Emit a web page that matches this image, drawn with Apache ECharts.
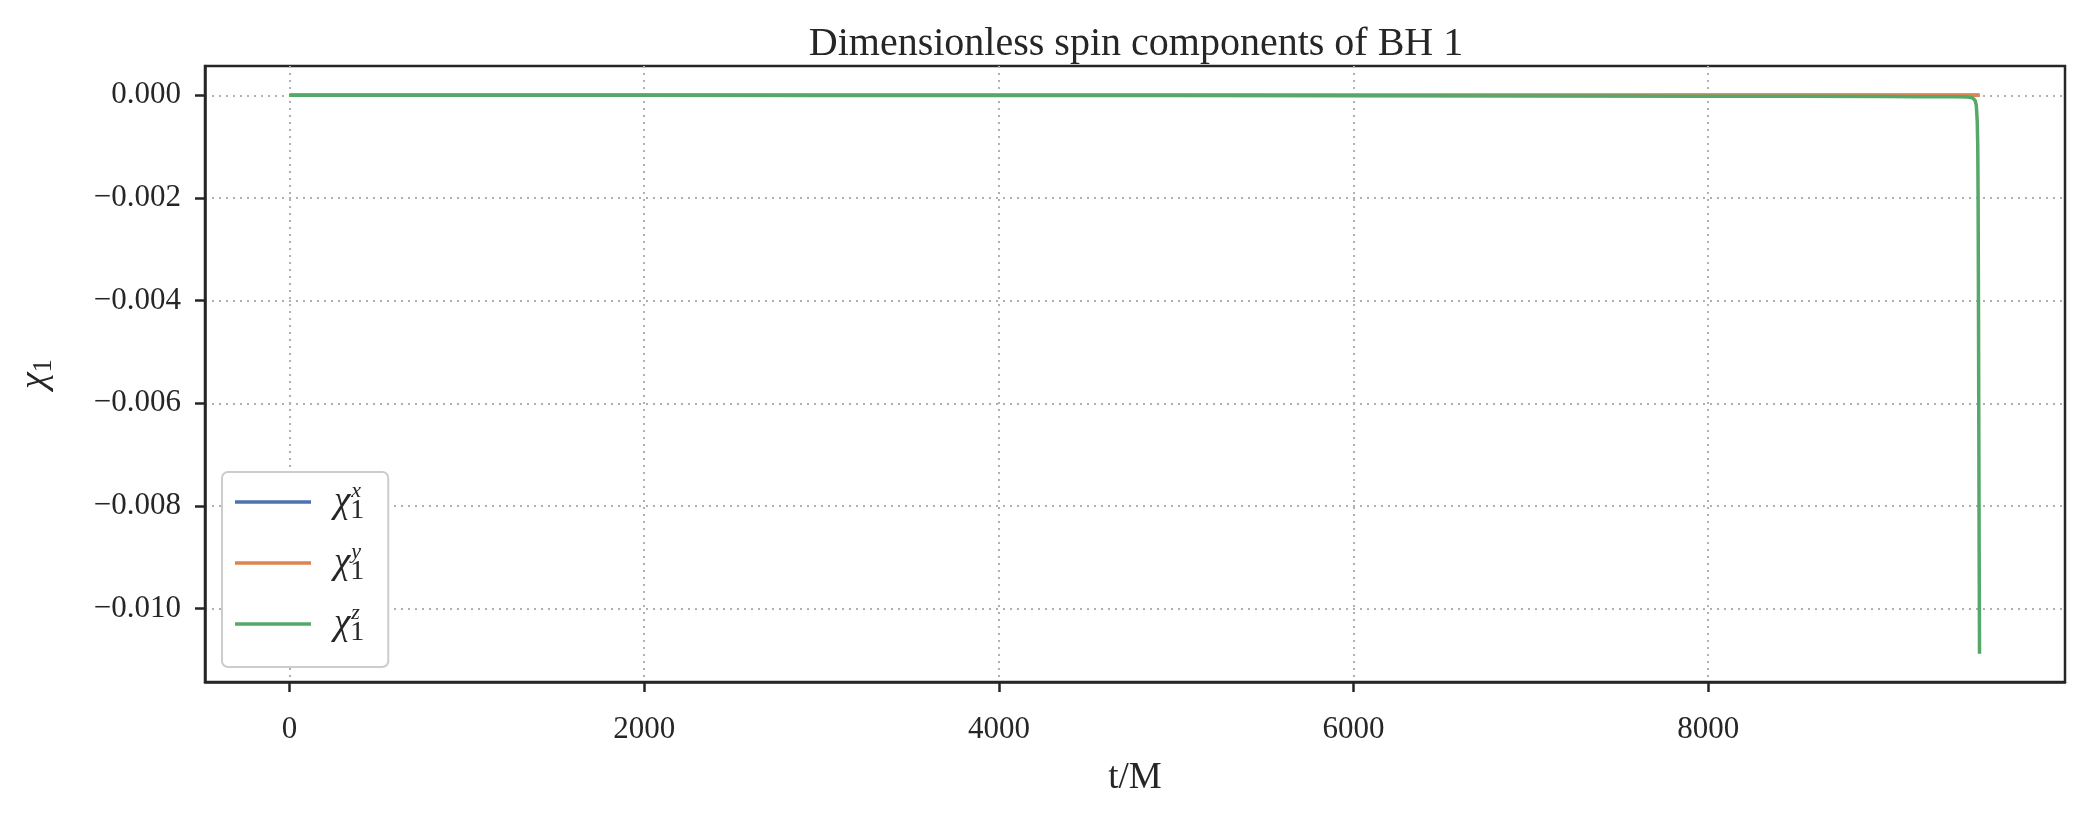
<!DOCTYPE html>
<html>
<head>
<meta charset="utf-8">
<script src="https://cdn.jsdelivr.net/npm/echarts@6/dist/echarts.min.js"></script>
<style>
html,body{margin:0;padding:0;background:#fff;}
#chart{width:2084px;height:816px;}
</style>
</head>
<body>
<div id="chart"></div>
<script>
// ---- data ----
const tValues = [0, 1000, 2000, 3000, 4000, 5000, 6000, 7000, 8000, 8500, 9000, 9200, 9400, 9460, 9490, 9505, 9512, 9517, 9520, 9522, 9524, 9526, 9528, 9530];
const chiX    = [0, 0, 0, 0, 0, 0, 0, 0, 0, 0, 0, 0, 0, 0, 0, 0, 0, 0, 0, 0, 0, 0, 0, 0];
const chiY    = [0, 0, 0, 0, 0, 0, 0, 0, 0, 0, 0, 0, 0, 0, 0, 0, 0, 0, 0, 0, 0, 0, 0, 0];
const chiZ    = [0, -0.000001, -0.000002, -0.000003, -0.000004, -0.000006, -0.000009, -0.000013, -0.000018, -0.000021, -0.000025, -0.000027, -0.00003, -0.000034, -0.00005, -0.0001, -0.0002, -0.0005, -0.0010, -0.0020, -0.0040, -0.0065, -0.0090, -0.01088];
const xTicks = [0, 2000, 4000, 6000, 8000];
const yTicks = [0, -0.002, -0.004, -0.006, -0.008, -0.010];
const seriesNames = ['x', 'y', 'z'];
const seriesColors = ['#4c72b0', '#dd8452', '#55a868'];

const FONT = '"Liberation Serif", "DejaVu Serif", serif';
const AXIS = '#262626';

function pairs(ys){ return tValues.map((t,i)=>[t, ys[i]]); }
function fmtY(v){
  const s = Math.abs(v).toFixed(3);
  return (v < -1e-12 ? '\u2212' : '') + s;
}

const chart = echarts.init(document.getElementById('chart'), null, {renderer:'canvas'});
const gridLine = {show:true, lineStyle:{color:'#b0b0b0', type:[2,5], width:2}};

const option = {
  backgroundColor:'#ffffff',
  animation:false,
  title:{
    text:'Dimensionless spin components of BH 1',
    left:1131, top:19, textAlign:'center',
    textStyle:{fontFamily:FONT, fontSize:40, fontWeight:'normal', color:'#262626'}
  },
  grid:{left:205, right:19, top:66, bottom:134, show:true, borderColor:AXIS, borderWidth:2.5, backgroundColor:'transparent'},
  legend:{
    left:222, top:472, orient:'vertical',
    itemWidth:76, itemHeight:14, itemGap:16,
    padding:[8,24,20,13],
    backgroundColor:'#ffffff', borderColor:'#cccccc', borderWidth:2, borderRadius:6,
    data:seriesNames.map(n=>({name:n, icon:'path://M0,0 L76,0 L76,3.5 L0,3.5 Z'})),
    formatter:function(name){ return '{c|\u03c7}{s|1}{p|' + name + '}'; },
    textStyle:{
      fontFamily:FONT, color:'#262626', lineHeight:40,
      rich:{
        c:{fontFamily:FONT, fontStyle:'italic', fontSize:37, padding:[0,0,0,18], color:'#262626'},
        s:{fontFamily:FONT, fontSize:28, padding:[18,0,0,0], width:1, color:'#262626'},
        p:{fontFamily:FONT, fontStyle:'italic', fontSize:22, padding:[0,0,22,0], color:'#262626'}
      }
    }
  },
  xAxis:{
    type:'value', min:-477, max:10012,
    name:'t/M', nameLocation:'middle', nameGap:78,
    nameTextStyle:{fontFamily:FONT, fontSize:37, color:'#262626'},
    axisLine:{show:true, onZero:false, lineStyle:{color:AXIS, width:2.5}},
    axisTick:{show:true, length:10, lineStyle:{color:AXIS, width:2.5}, customValues:xTicks},
    axisLabel:{fontFamily:FONT, fontSize:31, color:'#262626', margin:32, customValues:xTicks,
               formatter:v=>String(Math.round(v))},
    splitLine:gridLine
  },
  yAxis:{
    type:'value', min:-0.01143, max:0.00057,
    name:'{a|\u03c7}{b|1}', nameLocation:'middle', nameGap:148, nameRotate:90,
    nameTextStyle:{fontFamily:FONT, color:'#262626',
      rich:{a:{fontFamily:FONT, fontStyle:'italic', fontSize:38, color:'#262626'},
            b:{fontFamily:FONT, fontSize:27, padding:[16,0,0,0], color:'#262626'}}},
    axisLine:{show:true, onZero:false, lineStyle:{color:AXIS, width:2.5}},
    axisTick:{show:true, length:10, lineStyle:{color:AXIS, width:2.5}, customValues:yTicks},
    axisLabel:{fontFamily:FONT, fontSize:31, color:'#262626', margin:24, customValues:yTicks,
               formatter:fmtY},
    splitLine:gridLine
  },
  series:seriesNames.map((n,i)=>({
    name:n, type:'line', symbol:'none', showSymbol:false,
    data:pairs([chiX,chiY,chiZ][i]),
    lineStyle:{color:seriesColors[i], width:3.5},
    itemStyle:{color:seriesColors[i]},
    z:2+i
  }))
};
chart.setOption(option);
</script>
</body>
</html>
